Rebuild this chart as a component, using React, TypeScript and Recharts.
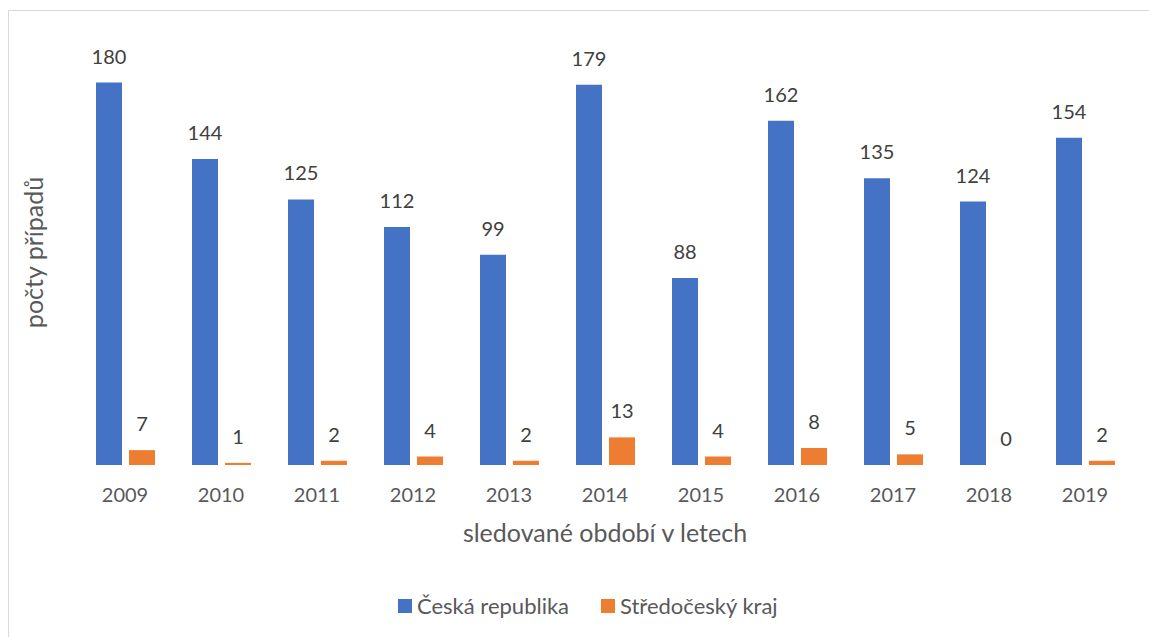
import React from "react";
import { BarChart, Bar, XAxis, YAxis, LabelList, Label, Legend } from "recharts";

const years = ["2009", "2010", "2011", "2012", "2013", "2014", "2015", "2016", "2017", "2018", "2019"];
const ceskaRepublika = [180, 144, 125, 112, 99, 179, 88, 162, 135, 124, 154];
const stredoceskyKraj = [7, 1, 2, 4, 2, 13, 4, 8, 5, 0, 2];
const seriesNames = ["Česká republika", "Středočeský kraj"];
const seriesColors = ["#4472C4", "#ED7D31"];
const yTitle = "počty případů";
const xTitle = "sledované období v letech";

const data = years.map((y, i) => ({ year: y, cr: ceskaRepublika[i], sk: stredoceskyKraj[i] }));

const renderLegend = () => {
  return (
    <div style={{ display: "flex", alignItems: "center", fontSize: 22, color: "#595959", lineHeight: "26px" }}>
      {seriesNames.map((name, i) => (
        <div key={i} style={{ display: "flex", alignItems: "center", marginRight: i === 0 ? 32 : 0 }}>
          <div style={{ width: 14, height: 14, background: seriesColors[i], marginRight: 5 }} />
          <span>{name}</span>
        </div>
      ))}
    </div>
  );
};

const renderValue = (p: any) => {
  const x = Number(p.x) + Number(p.width) / 2;
  const y = Number(p.y) - 19;
  return (
    <text x={x} y={y} textAnchor="middle" fontSize={20} fill="#404040">
      {String(p.value)}
    </text>
  );
};

const tinyForZero = (v: any) => (Number(v) === 0 ? 0.01 : 0);

export default function App() {
  return (
    <div
      style={{
        position: "fixed",
        left: 8,
        top: 10,
        width: 1180,
        height: 660,
        border: "1px solid #d9d9d9",
        background: "#fff",
        fontFamily: "Lato, 'Open Sans', sans-serif",
        overflow: "hidden",
      }}
    >
      <BarChart
        width={1140}
        height={620}
        data={data}
        margin={{ top: 29, right: 16, left: 0, bottom: 126 }}
        barSize={26}
        barGap={7}
      >
        <YAxis domain={[0, 200]} width={68} tick={false} axisLine={false} tickLine={false}>
          <Label
            value={yTitle}
            angle={-90}
            position="insideLeft"
            offset={25}
            style={{ textAnchor: "middle", fontSize: 25, fill: "#595959" }}
          />
        </YAxis>
        <XAxis
          dataKey="year"
          height={40}
          axisLine={false}
          tickLine={false}
          tickSize={0}
          tickMargin={23}
          interval={0}
          tick={{ fontSize: 20, fill: "#595959" }}
        >
          <Label value={xTitle} position="bottom" offset={19} style={{ fontSize: 25, fill: "#595959" }} />
        </XAxis>
        <Legend
          layout="horizontal"
          verticalAlign="middle"
          align="center"
          content={renderLegend}
          wrapperStyle={{ top: 582, left: 389, width: 500, height: 26 }}
        />
        <Bar dataKey="cr" name={seriesNames[0]} fill={seriesColors[0]} isAnimationActive={false}>
          <LabelList dataKey="cr" content={renderValue} />
        </Bar>
        <Bar
          dataKey="sk"
          name={seriesNames[1]}
          fill={seriesColors[1]}
          minPointSize={tinyForZero}
          isAnimationActive={false}
        >
          <LabelList dataKey="sk" content={renderValue} />
        </Bar>
      </BarChart>
    </div>
  );
}
